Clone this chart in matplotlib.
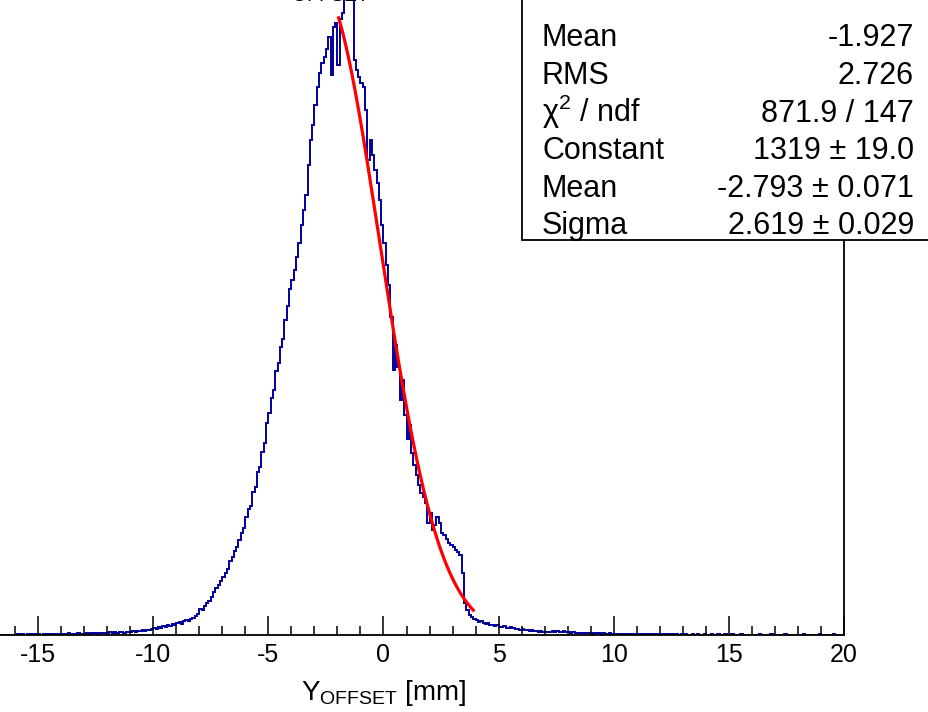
import numpy as np
import matplotlib
matplotlib.use("Agg")
import matplotlib.pyplot as plt
from matplotlib.patches import Rectangle
from matplotlib.ticker import MultipleLocator

plt.rcParams['font.family'] = ['Liberation Sans', 'DejaVu Sans']
plt.rcParams['mathtext.fontset'] = 'custom'
plt.rcParams['mathtext.rm'] = 'Liberation Sans'
plt.rcParams['mathtext.it'] = 'Liberation Sans:italic'
plt.rcParams['axes.unicode_minus'] = False

# ---------------- data ----------------
x_min, x_max = -20.0, 20.0
bin_width = 0.1
# counts per bin, one row per mm starting at x = -20
counts = [
    0, 0, 1, 0, 0, 0, 1, 0, 0, 0,            # -20
    0, 1, 0, 0, 0, 1, 0, 0, 1, 0,            # -19
    0, 0, 1, 0, 1, 0, 0, 1, 0, 1,            # -18
    1, 0, 1, 0, 0, 1, 1, 0, 1, 0,            # -17
    1, 2, 1, 2, 1, 3, 1, 2, 2, 1,            # -16
    2, 1, 3, 2, 2, 1, 2, 3, 2, 2,            # -15
    3, 2, 2, 4, 3, 2, 3, 4, 3, 2,            # -14
    3, 4, 3, 4, 5, 3, 4, 5, 4, 5,            # -13
    5, 6, 4, 6, 5, 7, 6, 5, 7, 6,            # -12
    7, 8, 6, 9, 8, 10, 9, 11, 10, 12,        # -11
    14, 12, 16, 15, 18, 17, 20, 19, 22, 21,  # -10
    24, 26, 23, 28, 30, 29, 33, 35, 38, 42,  # -9
    52, 50, 58, 64, 70, 78, 88, 95, 102, 110,          # -8
    118, 126, 134, 150, 158, 170, 178, 192, 206, 218,  # -7
    240, 256, 262, 290, 300, 330, 340, 372, 390, 430,  # -6
    450, 480, 498, 535, 552, 585, 600, 640, 668, 702,  # -5
    721, 741, 767, 796, 832, 863, 893, 954, 1005, 1035,        # -4
    1076, 1112, 1141, 1161, 1173, 1190, 1214, 1137, 1234, 1242,  # -3
    1157, 1250, 1263, 1309, 1344, 1336, 1309, 1167, 1147, 1133,  # -2
    1121, 1112, 1066, 964, 1005, 974, 944, 918, 883, 832,        # -1
    796, 751, 711, 646, 538, 589, 544, 477, 518, 447,  # 0
    398, 426, 369, 345, 325, 305, 288, 280, 268, 227,  # 1
    248, 213, 223, 240, 227, 207, 203, 195, 187, 183,  # 2
    179, 173, 168, 162, 126, 65, 51, 41, 37, 32,       # 3
    30, 26, 28, 24, 22, 25, 20, 21, 18, 20,  # 4
    16, 17, 18, 14, 15, 16, 14, 12, 13, 11,  # 5
    12, 10, 11, 9, 10, 8, 9, 7, 8, 7,        # 6
    7, 6, 6, 8, 7, 9, 6, 7, 8, 6,            # 7
    6, 5, 6, 5, 4, 5, 4, 5, 4, 4,            # 8
    4, 3, 4, 4, 3, 4, 3, 3, 4, 3,            # 9
    3, 3, 2, 3, 3, 2, 3, 2, 2, 3,            # 10
    2, 3, 2, 2, 1, 2, 3, 2, 2, 1,            # 11
    2, 1, 2, 2, 1, 2, 1, 2, 1, 2,            # 12
    1, 2, 1, 1, 2, 1, 2, 1, 1, 2,            # 13
    1, 1, 2, 1, 1, 2, 1, 1, 2, 1,            # 14
    1, 2, 1, 1, 1, 2, 1, 1, 1, 1,            # 15
    1, 1, 1, 2, 1, 1, 1, 1, 2, 1,            # 16
    1, 1, 1, 1, 2, 1, 1, 1, 1, 1,            # 17
    1, 1, 2, 1, 1, 1, 1, 1, 1, 2,            # 18
    1, 1, 1, 1, 1, 2, 1, 1, 1, 1,            # 19
]

fit_constant = 1319.0
fit_mean = -2.793
fit_sigma = 2.619
fit_range = [-1.95, 3.9]

stat_labels = ["Mean", "RMS", "χ$^{2}$ / ndf", "Constant", "Mean", "Sigma"]
stat_values = ["-1.927", "2.726", "871.9 / 147", "1319 ± 19.0",
               "-2.793 ± 0.071", "2.619 ± 0.029"]

x_ticks_major = [-15, -10, -5, 0, 5, 10, 15, 20]

# ---------------- figure ----------------
W, H = 929, 712
fig = plt.figure(figsize=(W / 100, H / 100), dpi=100)

px_per_mm = 23.03
x0_px = 383.5
left_px = x0_px + x_min * px_per_mm
right_px = x0_px + x_max * px_per_mm
base_px = 635.0
px_per_count = 0.4928
y_top = 1400.0
ax = fig.add_axes([left_px / W, (H - base_px) / H,
                   (right_px - left_px) / W, y_top * px_per_count / H])

edges = np.linspace(x_min, x_max, len(counts) + 1)
ax.stairs(counts, edges, color='#00009c', lw=1.4, baseline=0)

xf = np.linspace(fit_range[0], fit_range[1], 300)
yf = fit_constant * np.exp(-0.5 * ((xf - fit_mean) / fit_sigma) ** 2)
ax.plot(xf, yf, color='#ff0000', lw=2.3, zorder=3)

ax.set_xlim(x_min, x_max)
ax.set_ylim(0, y_top)
ax.xaxis.set_major_locator(MultipleLocator(5))
ax.xaxis.set_minor_locator(MultipleLocator(1))
ax.set_xticks(x_ticks_major)
ax.set_xticklabels([str(t) for t in x_ticks_major])
ax.tick_params(axis='x', which='major', direction='in', length=13.5, width=1.1,
               labelsize=18, pad=6, top=False)
ax.tick_params(axis='x', which='minor', direction='in', length=6.5, width=1.1, top=False)
ax.tick_params(axis='y', left=False, labelleft=False, right=False)
for s in ax.spines.values():
    s.set_linewidth(1.3)
ax.set_xlabel(r'$\mathrm{Y}_{\mathrm{OFFSET}}$ [mm]', fontsize=20, labelpad=8)

# cropped title at top
fig.text(273 / W, (H + 2) / H, r'$\mathrm{Y}_{\mathrm{OFFSET}}$', fontsize=20,
         ha='left', va='baseline')

# stats box
box = Rectangle((522 / W, (H - 240) / H), 1.0, 1.0, transform=fig.transFigure,
                facecolor='white', edgecolor='black', lw=1.3, zorder=5)
fig.patches.append(box)
fig.text(542 / W, (H + 4) / H, "Entries", fontsize=22, ha='left', va='baseline', zorder=6)
baselines = [46, 84, 122, 159, 197, 234]
for lab, val, b in zip(stat_labels, stat_values, baselines):
    fig.text(542 / W, (H - b) / H, lab, fontsize=22, ha='left', va='baseline', zorder=6)
    fig.text(914 / W, (H - b) / H, val, fontsize=22, ha='right', va='baseline', zorder=6)

fig.savefig("out.png", dpi=100)
